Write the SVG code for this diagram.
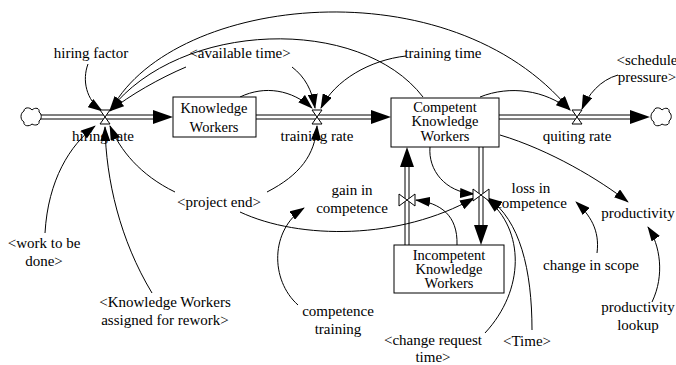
<svg xmlns="http://www.w3.org/2000/svg" width="676" height="365" viewBox="0 0 676 365" font-family="'Liberation Serif', 'Times New Roman', 'DejaVu Serif', serif">
<style>
text{font-family:'Liberation Serif','Times New Roman','DejaVu Serif',serif;font-size:15px;fill:#000;text-anchor:middle}
.bx text{font-size:14.5px}
.lnk{fill:none;stroke:#000;stroke-width:1;marker-end:url(#ah)}
.pipe{stroke:#000;stroke-width:1;fill:none}
.box{fill:#fff;stroke:#000;stroke-width:1}
.valve{fill:#fff;stroke:#000;stroke-width:1}
.pa{fill:#000;stroke:none}
.cloud{fill:#fff;stroke:#000;stroke-width:1}
</style>
<defs>
<marker id="ah" markerUnits="userSpaceOnUse" markerWidth="15" markerHeight="10" viewBox="0 0 15 10" refX="14" refY="5" orient="auto">
<path d="M0,0 L15,5 L0,10 z" fill="#000"/>
</marker>
</defs>
<rect width="676" height="365" fill="#fff"/>
<g id="connectors">
<path class="lnk" d="M88 64 C82 80,86 100,102 111"/>
<path class="lnk" d="M186 67 C160 78,130 95,110 111"/>
<path class="lnk" d="M423 97 C360 15,180 20,110 110"/>
<path class="lnk" d="M112 108 C175 -5,450 -35,570 110"/>
<path class="lnk" d="M240 97 C265 85,292 90,312 108"/>
<path class="lnk" d="M292 67 C305 77,312 90,315 108"/>
<path class="lnk" d="M406 56 C370 60,335 80,321 108"/>
<path class="lnk" d="M480 97 C510 85,545 90,570 110"/>
<path class="lnk" d="M618 75 C600 80,588 95,582 109"/>
<path class="lnk" d="M175 192 C140 175,120 150,110 126"/>
<path class="lnk" d="M267 192 C300 175,315 155,317 126"/>
<path class="lnk" d="M240 212 C300 240,400 240,474 198"/>
<path class="lnk" d="M45 233 C48 180,70 145,95 126"/>
<path class="lnk" d="M152 293 C120 240,106 180,105 127"/>
<path class="lnk" d="M430 147 C428 170,445 192,474 194"/>
<path class="lnk" d="M500 135 C550 150,600 180,628 202"/>
<path class="lnk" d="M457 245 C458 215,440 203,416 200"/>
<path class="lnk" d="M298 305 C270 280,270 230,304 208"/>
<path class="lnk" d="M485 333 C525 290,525 230,487 199"/>
<path class="lnk" d="M532 330 C532 270,520 220,488 198"/>
<path class="lnk" d="M597 253 C600 230,590 215,576 202"/>
<path class="lnk" d="M652 302 C665 275,660 245,648 227"/>
</g>
<g id="pipes">
<line class="pipe" x1="40" y1="115" x2="155" y2="115"/>
<line class="pipe" x1="40" y1="119" x2="155" y2="119"/>
<path class="pa" d="M153 110 L173 117 L153 124 z"/>
<line class="pipe" x1="256" y1="115" x2="373" y2="115"/>
<line class="pipe" x1="256" y1="119" x2="373" y2="119"/>
<path class="pa" d="M371 110 L391 117 L371 124 z"/>
<line class="pipe" x1="499" y1="115" x2="632" y2="115"/>
<line class="pipe" x1="499" y1="119" x2="632" y2="119"/>
<path class="pa" d="M630 110 L650 117 L630 124 z"/>
<line class="pipe" x1="405" y1="245" x2="405" y2="165"/>
<line class="pipe" x1="409" y1="245" x2="409" y2="165"/>
<path class="pa" d="M400 167 L407 147 L414 167 z"/>
<line class="pipe" x1="479" y1="147" x2="479" y2="227"/>
<line class="pipe" x1="483" y1="147" x2="483" y2="227"/>
<path class="pa" d="M474 225 L481 245 L488 225 z"/>
</g>
<g id="cloud-left"><path class="cloud" d="M24 111 C24 107,30 107,32 110 C35 107,40 108,39 112 C42 114,42 119,39 121 C40 125,35 126,32 124 C29 127,23 126,24 122 C20 120,20 113,24 111 z"/></g>
<g id="cloud-right"><path class="cloud" d="M654 111 C654 107,660 107,662 110 C665 107,670 108,669 112 C672 114,672 119,669 121 C670 125,665 126,662 124 C659 127,653 126,654 122 C650 120,650 113,654 111 z"/></g>
<g id="hiring-rate">
<path class="valve" d="M100 110 L110 110 L105 117 z M105 117 L100 124 L110 124 z"/>
<text x="103" y="141">hiring rate</text>
</g>
<g id="training-rate">
<path class="valve" d="M312 110 L322 110 L317 117 z M317 117 L312 124 L322 124 z"/>
<text x="317" y="141">training rate</text>
</g>
<g id="quiting-rate">
<path class="valve" d="M572 110 L582 110 L577 117 z M577 117 L572 124 L582 124 z"/>
<text x="577" y="141">quiting rate</text>
</g>
<g id="gain-in-competence">
<path class="valve" d="M399 194 L407 200 L399 206 z M415 194 L407 200 L415 206 z"/>
<text x="352" y="195">gain in</text>
<text x="352" y="213">competence</text>
</g>
<g id="loss-in-competence">
<path class="valve" d="M473 189 L481 195 L473 201 z M489 189 L481 195 L489 201 z"/>
<text x="531" y="193">loss in</text>
<text x="531" y="208">competence</text>
</g>
<g id="knowledge-workers" class="bx">
<rect class="box" x="173" y="97" width="83" height="40"/>
<text x="214" y="113">Knowledge</text>
<text x="214" y="132">Workers</text>
</g>
<g id="competent-knowledge-workers" class="bx">
<rect class="box" x="391" y="98" width="108" height="49"/>
<text x="445" y="112">Competent</text>
<text x="445" y="126">Knowledge</text>
<text x="445" y="141">Workers</text>
</g>
<g id="incompetent-knowledge-workers" class="bx">
<rect class="box" x="394" y="245" width="110" height="48"/>
<text x="449" y="260">Incompetent</text>
<text x="449" y="274">Knowledge</text>
<text x="449" y="288">Workers</text>
</g>
<g id="hiring-factor"><text x="91" y="58">hiring factor</text></g>
<g id="available-time"><text x="240" y="58">&lt;available time&gt;</text></g>
<g id="training-time"><text x="443" y="58">training time</text></g>
<g id="schedule-pressure"><text x="647" y="65">&lt;schedule</text><text x="647" y="82">pressure&gt;</text></g>
<g id="project-end"><text x="219" y="207">&lt;project end&gt;</text></g>
<g id="work-to-be-done"><text x="44" y="248">&lt;work to be</text><text x="44" y="266">done&gt;</text></g>
<g id="kw-assigned-for-rework"><text x="165" y="307">&lt;Knowledge Workers</text><text x="165" y="325">assigned for rework&gt;</text></g>
<g id="competence-training"><text x="338" y="316">competence</text><text x="338" y="334">training</text></g>
<g id="change-request-time"><text x="433" y="345">&lt;change request</text><text x="433" y="362">time&gt;</text></g>
<g id="time"><text x="527" y="346">&lt;Time&gt;</text></g>
<g id="change-in-scope"><text x="591" y="270">change in scope</text></g>
<g id="productivity"><text x="638" y="218">productivity</text></g>
<g id="productivity-lookup"><text x="638" y="312">productivity</text><text x="638" y="330">lookup</text></g>
</svg>
